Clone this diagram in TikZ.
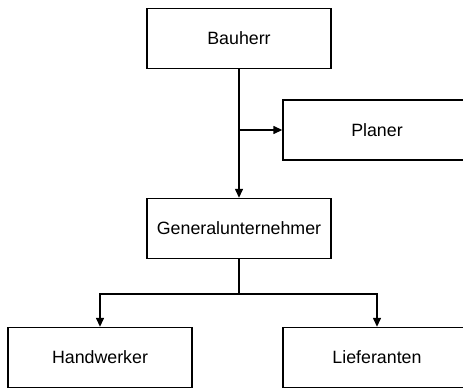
\documentclass[tikz,border=0pt]{standalone}
\usepackage{fontspec}
\setmainfont{Liberation Sans}
\usetikzlibrary{arrows.meta}
\begin{document}
\begin{tikzpicture}[x=1pt,y=-1pt,
  box/.style={draw=black, line width=1.4pt, fill=white, rectangle,
    minimum width=184pt, minimum height=60pt, inner sep=0pt,
    font=\fontsize{17.8}{20}\selectfont},
  widebox/.style={box, minimum width=188pt},
  conn/.style={draw=black, line width=1.4pt},
  arr/.style={conn, -{Triangle[length=9pt,width=8pt]}}]
\useasboundingbox (0,0) rectangle (463,390);
\clip (0,0) rectangle (463,390);
\node[box] (bauherr) at (239,38.5) {Bauherr};
\node[widebox] (planer) at (377,130) {Planer};
\node[box] (gu) at (239,228.5) {Generalunternehmer};
\node[box] (hand) at (100,357.5) {Handwerker};
\node[widebox] (lief) at (377,357.5) {Lieferanten};
\coordinate (split) at (239,130);
\coordinate (fork) at (239,294);
\draw[arr] (bauherr.south) -- (gu.north);
\draw[arr] (split) -- (planer.west);
\draw[conn] (gu.south) -- (fork);
\draw[arr] (fork) -| (hand.north);
\draw[arr] (fork) -| (lief.north);
\end{tikzpicture}
\end{document}
